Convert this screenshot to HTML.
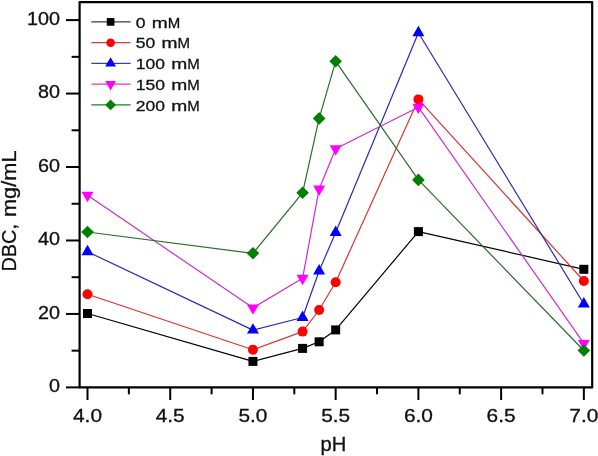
<!DOCTYPE html>
<html><head><meta charset="utf-8"><style>
html,body{margin:0;padding:0;background:#fff;width:598px;height:456px;overflow:hidden;}
svg{display:block;}
text{font-family:"Liberation Sans",sans-serif;fill:#111;stroke:#111;stroke-width:0.3px;}
svg{will-change:transform;}
</style></head><body>
<svg width="598" height="456" viewBox="0 0 598 456">
<path d="M79.6,387.4 L79.6,2.1 L592.2,2.1 L592.2,387.4 Z" fill="none" stroke="#000" stroke-width="2.2" stroke-linejoin="round"/>
<line x1="66" y1="387.40" x2="79.6" y2="387.40" stroke="#000" stroke-width="2"/>
<line x1="71.6" y1="350.67" x2="79.6" y2="350.67" stroke="#000" stroke-width="2"/>
<line x1="66" y1="313.94" x2="79.6" y2="313.94" stroke="#000" stroke-width="2"/>
<line x1="71.6" y1="277.21" x2="79.6" y2="277.21" stroke="#000" stroke-width="2"/>
<line x1="66" y1="240.48" x2="79.6" y2="240.48" stroke="#000" stroke-width="2"/>
<line x1="71.6" y1="203.75" x2="79.6" y2="203.75" stroke="#000" stroke-width="2"/>
<line x1="66" y1="167.02" x2="79.6" y2="167.02" stroke="#000" stroke-width="2"/>
<line x1="71.6" y1="130.29" x2="79.6" y2="130.29" stroke="#000" stroke-width="2"/>
<line x1="66" y1="93.56" x2="79.6" y2="93.56" stroke="#000" stroke-width="2"/>
<line x1="71.6" y1="56.83" x2="79.6" y2="56.83" stroke="#000" stroke-width="2"/>
<line x1="66" y1="20.10" x2="79.6" y2="20.10" stroke="#000" stroke-width="2"/>
<line x1="87.50" y1="387.4" x2="87.50" y2="400" stroke="#000" stroke-width="2"/>
<line x1="128.86" y1="387.4" x2="128.86" y2="394.3" stroke="#000" stroke-width="2"/>
<line x1="170.22" y1="387.4" x2="170.22" y2="400" stroke="#000" stroke-width="2"/>
<line x1="211.59" y1="387.4" x2="211.59" y2="394.3" stroke="#000" stroke-width="2"/>
<line x1="252.95" y1="387.4" x2="252.95" y2="400" stroke="#000" stroke-width="2"/>
<line x1="294.31" y1="387.4" x2="294.31" y2="394.3" stroke="#000" stroke-width="2"/>
<line x1="335.67" y1="387.4" x2="335.67" y2="400" stroke="#000" stroke-width="2"/>
<line x1="377.04" y1="387.4" x2="377.04" y2="394.3" stroke="#000" stroke-width="2"/>
<line x1="418.40" y1="387.4" x2="418.40" y2="400" stroke="#000" stroke-width="2"/>
<line x1="459.76" y1="387.4" x2="459.76" y2="394.3" stroke="#000" stroke-width="2"/>
<line x1="501.12" y1="387.4" x2="501.12" y2="400" stroke="#000" stroke-width="2"/>
<line x1="542.49" y1="387.4" x2="542.49" y2="394.3" stroke="#000" stroke-width="2"/>
<line x1="583.85" y1="387.4" x2="583.85" y2="400" stroke="#000" stroke-width="2"/>
<text x="60" y="392.30" font-family="Liberation Sans, sans-serif" font-size="17.6" text-anchor="end" textLength="11.0" lengthAdjust="spacingAndGlyphs">0</text>
<text x="60" y="318.84" font-family="Liberation Sans, sans-serif" font-size="17.6" text-anchor="end" textLength="22.0" lengthAdjust="spacingAndGlyphs">20</text>
<text x="60" y="245.38" font-family="Liberation Sans, sans-serif" font-size="17.6" text-anchor="end" textLength="22.0" lengthAdjust="spacingAndGlyphs">40</text>
<text x="60" y="171.92" font-family="Liberation Sans, sans-serif" font-size="17.6" text-anchor="end" textLength="22.0" lengthAdjust="spacingAndGlyphs">60</text>
<text x="60" y="98.46" font-family="Liberation Sans, sans-serif" font-size="17.6" text-anchor="end" textLength="22.0" lengthAdjust="spacingAndGlyphs">80</text>
<text x="60" y="25.00" font-family="Liberation Sans, sans-serif" font-size="17.6" text-anchor="end" textLength="33.0" lengthAdjust="spacingAndGlyphs">100</text>
<text x="87.50" y="422.1" font-family="Liberation Sans, sans-serif" font-size="17.6" text-anchor="middle" textLength="29" lengthAdjust="spacingAndGlyphs">4.0</text>
<text x="170.22" y="422.1" font-family="Liberation Sans, sans-serif" font-size="17.6" text-anchor="middle" textLength="29" lengthAdjust="spacingAndGlyphs">4.5</text>
<text x="252.95" y="422.1" font-family="Liberation Sans, sans-serif" font-size="17.6" text-anchor="middle" textLength="29" lengthAdjust="spacingAndGlyphs">5.0</text>
<text x="335.67" y="422.1" font-family="Liberation Sans, sans-serif" font-size="17.6" text-anchor="middle" textLength="29" lengthAdjust="spacingAndGlyphs">5.5</text>
<text x="418.40" y="422.1" font-family="Liberation Sans, sans-serif" font-size="17.6" text-anchor="middle" textLength="29" lengthAdjust="spacingAndGlyphs">6.0</text>
<text x="501.12" y="422.1" font-family="Liberation Sans, sans-serif" font-size="17.6" text-anchor="middle" textLength="29" lengthAdjust="spacingAndGlyphs">6.5</text>
<text x="583.85" y="422.1" font-family="Liberation Sans, sans-serif" font-size="17.6" text-anchor="middle" textLength="29" lengthAdjust="spacingAndGlyphs">7.0</text>
<text x="333.5" y="450.9" font-family="Liberation Sans, sans-serif" font-size="20" text-anchor="middle" textLength="25.8" lengthAdjust="spacingAndGlyphs">pH</text>
<text transform="translate(15.6,271.5) rotate(-90)" x="0" y="0" font-family="Liberation Sans, sans-serif" font-size="20.2" textLength="47.5" lengthAdjust="spacingAndGlyphs">DBC,</text>
<text transform="translate(15.6,217.0) rotate(-90)" x="0" y="0" font-family="Liberation Sans, sans-serif" font-size="20.2" textLength="66.5" lengthAdjust="spacingAndGlyphs">mg/mL</text>
<polyline points="87.50,313.50 252.95,361.40 302.58,348.40 319.13,341.80 335.67,329.90 418.40,231.60 583.85,269.30" fill="none" stroke="#000000" stroke-width="1.2" stroke-linejoin="round"/>
<rect x="83.00" y="309.00" width="9.00" height="9.00" fill="#000000"/>
<rect x="248.45" y="356.90" width="9.00" height="9.00" fill="#000000"/>
<rect x="298.08" y="343.90" width="9.00" height="9.00" fill="#000000"/>
<rect x="314.63" y="337.30" width="9.00" height="9.00" fill="#000000"/>
<rect x="331.17" y="325.40" width="9.00" height="9.00" fill="#000000"/>
<rect x="413.90" y="227.10" width="9.00" height="9.00" fill="#000000"/>
<rect x="579.35" y="264.80" width="9.00" height="9.00" fill="#000000"/>
<polyline points="87.50,294.20 252.95,349.70 302.58,331.60 319.13,310.00 335.67,282.30 418.40,99.40 583.85,281.00" fill="none" stroke="#d83434" stroke-width="1.2" stroke-linejoin="round"/>
<circle cx="87.50" cy="294.20" r="5.00" fill="#ff0000"/>
<circle cx="252.95" cy="349.70" r="5.00" fill="#ff0000"/>
<circle cx="302.58" cy="331.60" r="5.00" fill="#ff0000"/>
<circle cx="319.13" cy="310.00" r="5.00" fill="#ff0000"/>
<circle cx="335.67" cy="282.30" r="5.00" fill="#ff0000"/>
<circle cx="418.40" cy="99.40" r="5.00" fill="#ff0000"/>
<circle cx="583.85" cy="281.00" r="5.00" fill="#ff0000"/>
<polyline points="87.50,251.73 252.95,330.13 302.58,317.53 319.13,270.93 335.67,232.53 418.40,32.73 583.85,304.03" fill="none" stroke="#2a2ab8" stroke-width="1.2" stroke-linejoin="round"/>
<polygon points="87.50,244.80 93.50,255.20 81.50,255.20" fill="#0000ff"/>
<polygon points="252.95,323.20 258.95,333.60 246.95,333.60" fill="#0000ff"/>
<polygon points="302.58,310.60 308.58,321.00 296.58,321.00" fill="#0000ff"/>
<polygon points="319.13,264.00 325.13,274.40 313.13,274.40" fill="#0000ff"/>
<polygon points="335.67,225.60 341.67,236.00 329.67,236.00" fill="#0000ff"/>
<polygon points="418.40,25.80 424.40,36.20 412.40,36.20" fill="#0000ff"/>
<polygon points="583.85,297.10 589.85,307.50 577.85,307.50" fill="#0000ff"/>
<polyline points="87.50,195.27 252.95,307.87 302.58,278.27 319.13,188.97 335.67,148.77 418.40,107.17 583.85,343.37" fill="none" stroke="#d02cd0" stroke-width="1.2" stroke-linejoin="round"/>
<polygon points="81.50,191.80 93.50,191.80 87.50,202.20" fill="#ff00ff"/>
<polygon points="246.95,304.40 258.95,304.40 252.95,314.80" fill="#ff00ff"/>
<polygon points="296.58,274.80 308.58,274.80 302.58,285.20" fill="#ff00ff"/>
<polygon points="313.13,185.50 325.13,185.50 319.13,195.90" fill="#ff00ff"/>
<polygon points="329.67,145.30 341.67,145.30 335.67,155.70" fill="#ff00ff"/>
<polygon points="412.40,103.70 424.40,103.70 418.40,114.10" fill="#ff00ff"/>
<polygon points="577.85,339.90 589.85,339.90 583.85,350.30" fill="#ff00ff"/>
<polyline points="87.50,232.00 252.95,253.30 302.58,192.80 319.13,118.40 335.67,61.30 418.40,179.90 583.85,350.50" fill="none" stroke="#2a6e2a" stroke-width="1.2" stroke-linejoin="round"/>
<polygon points="87.50,225.70 93.80,232.00 87.50,238.30 81.20,232.00" fill="#008000"/>
<polygon points="252.95,247.00 259.25,253.30 252.95,259.60 246.65,253.30" fill="#008000"/>
<polygon points="302.58,186.50 308.88,192.80 302.58,199.10 296.28,192.80" fill="#008000"/>
<polygon points="319.13,112.10 325.43,118.40 319.13,124.70 312.83,118.40" fill="#008000"/>
<polygon points="335.67,55.00 341.97,61.30 335.67,67.60 329.37,61.30" fill="#008000"/>
<polygon points="418.40,173.60 424.70,179.90 418.40,186.20 412.10,179.90" fill="#008000"/>
<polygon points="583.85,344.20 590.15,350.50 583.85,356.80 577.55,350.50" fill="#008000"/>
<line x1="91.3" y1="21.90" x2="130.6" y2="21.90" stroke="#3a3a3a" stroke-width="1.1"/>
<rect x="106.77" y="18.07" width="7.65" height="7.65" fill="#000000"/>
<text x="135.8" y="27.70" font-family="Liberation Sans, sans-serif" font-size="15.2" textLength="9.75" lengthAdjust="spacingAndGlyphs" fill="#000">0</text>
<text x="151.75" y="27.70" font-family="Liberation Sans, sans-serif" font-size="15.2" textLength="16.0" lengthAdjust="spacingAndGlyphs" fill="#000">m</text>
<text x="167.75" y="27.70" font-family="Liberation Sans, sans-serif" font-size="15.2" textLength="12.5" lengthAdjust="spacingAndGlyphs" fill="#000">M</text>
<line x1="91.3" y1="42.65" x2="130.6" y2="42.65" stroke="#e03a3a" stroke-width="1.1"/>
<circle cx="110.60" cy="42.65" r="4.25" fill="#ff0000"/>
<text x="135.8" y="48.45" font-family="Liberation Sans, sans-serif" font-size="15.2" textLength="19.50" lengthAdjust="spacingAndGlyphs" fill="#000">50</text>
<text x="161.50" y="48.45" font-family="Liberation Sans, sans-serif" font-size="15.2" textLength="16.0" lengthAdjust="spacingAndGlyphs" fill="#000">m</text>
<text x="177.50" y="48.45" font-family="Liberation Sans, sans-serif" font-size="15.2" textLength="12.5" lengthAdjust="spacingAndGlyphs" fill="#000">M</text>
<line x1="91.3" y1="63.40" x2="130.6" y2="63.40" stroke="#3a3ad0" stroke-width="1.1"/>
<polygon points="110.60,57.16 116.00,66.52 105.20,66.52" fill="#0000ff"/>
<text x="135.8" y="69.20" font-family="Liberation Sans, sans-serif" font-size="15.2" textLength="29.25" lengthAdjust="spacingAndGlyphs" fill="#000">100</text>
<text x="171.25" y="69.20" font-family="Liberation Sans, sans-serif" font-size="15.2" textLength="16.0" lengthAdjust="spacingAndGlyphs" fill="#000">m</text>
<text x="187.25" y="69.20" font-family="Liberation Sans, sans-serif" font-size="15.2" textLength="12.5" lengthAdjust="spacingAndGlyphs" fill="#000">M</text>
<line x1="91.3" y1="84.15" x2="130.6" y2="84.15" stroke="#e030e0" stroke-width="1.1"/>
<polygon points="105.20,81.03 116.00,81.03 110.60,90.39" fill="#ff00ff"/>
<text x="135.8" y="89.95" font-family="Liberation Sans, sans-serif" font-size="15.2" textLength="29.25" lengthAdjust="spacingAndGlyphs" fill="#000">150</text>
<text x="171.25" y="89.95" font-family="Liberation Sans, sans-serif" font-size="15.2" textLength="16.0" lengthAdjust="spacingAndGlyphs" fill="#000">m</text>
<text x="187.25" y="89.95" font-family="Liberation Sans, sans-serif" font-size="15.2" textLength="12.5" lengthAdjust="spacingAndGlyphs" fill="#000">M</text>
<line x1="91.3" y1="104.90" x2="130.6" y2="104.90" stroke="#2a7a2a" stroke-width="1.1"/>
<polygon points="110.60,99.55 115.95,104.90 110.60,110.26 105.24,104.90" fill="#008000"/>
<text x="135.8" y="110.70" font-family="Liberation Sans, sans-serif" font-size="15.2" textLength="29.25" lengthAdjust="spacingAndGlyphs" fill="#000">200</text>
<text x="171.25" y="110.70" font-family="Liberation Sans, sans-serif" font-size="15.2" textLength="16.0" lengthAdjust="spacingAndGlyphs" fill="#000">m</text>
<text x="187.25" y="110.70" font-family="Liberation Sans, sans-serif" font-size="15.2" textLength="12.5" lengthAdjust="spacingAndGlyphs" fill="#000">M</text>
</svg>
</body></html>
